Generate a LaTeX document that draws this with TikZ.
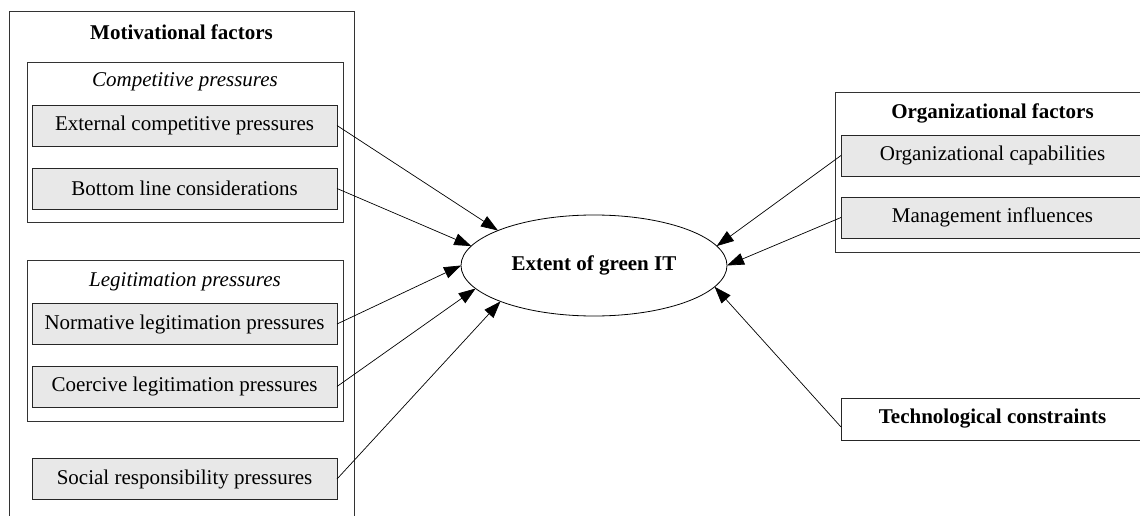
\documentclass[tikz,border=0pt]{standalone}
\usepackage{fontspec}
\setmainfont{Liberation Serif}
\usetikzlibrary{arrows.meta,shapes.geometric}
\definecolor{boxgray}{HTML}{E8E8E8}
\definecolor{framegray}{HTML}{333333}
\tikzset{
  x=1pt, y=-1pt,
  every node/.style={font=\fontsize{21}{25}\selectfont, inner sep=0pt, outer sep=0pt},
  graybox/.style={draw=black!85, line width=0.8pt, fill=boxgray, minimum width=305pt, minimum height=41pt},
  rightbox/.style={draw=black!85, line width=0.8pt, fill=boxgray, minimum width=303pt, minimum height=41pt},
  frame/.style={draw=framegray, line width=0.8pt},
  titletext/.style={font=\fontsize{21}{25}\selectfont\bfseries},
  subtitle/.style={font=\fontsize{21}{25}\selectfont\itshape},
  conn/.style={line width=0.7pt, -{Triangle[length=17pt,width=12pt]}},
}
\begin{document}
\begin{tikzpicture}
\clip (0,0) rectangle (1140,516);
\fill[white] (0,0) rectangle (1140,516);
% containers
\node[frame, minimum width=345pt, minimum height=524pt] (motiv) at (181.5,273) {};
\node[titletext] (motivT) at (181.5,32) {Motivational factors};
\node[frame, minimum width=316pt, minimum height=160pt] (comp) at (185,142) {};
\node[subtitle] (compT) at (185,82) {Competitive pressures};
\node[frame, minimum width=316pt, minimum height=161pt] (legit) at (185,340.5) {};
\node[subtitle] (legitT) at (185,282) {Legitimation pressures};
\node[frame, minimum width=315pt, minimum height=160pt] (org) at (992.5,172) {};
\node[titletext] (orgT) at (992.5,113) {Organizational factors};
% left boxes
\node[graybox] (ext) at (184.5,125.5) {External competitive pressures};
\node[graybox] (bot) at (184.5,188.5) {Bottom line considerations};
\node[graybox] (norm) at (184.5,324) {Normative legitimation pressures};
\node[graybox] (coer) at (184.5,386.5) {Coercive legitimation pressures};
\node[graybox] (soc) at (184.5,479) {Social responsibility pressures};
% right boxes
\node[rightbox] (cap) at (992.5,155.5) {Organizational capabilities};
\node[rightbox] (man) at (992.5,217.5) {Management influences};
\node[draw=black!85, line width=0.8pt, fill=white, minimum width=303pt, minimum height=42pt, font=\fontsize{21}{25}\selectfont\bfseries] (tech) at (992.5,419) {Technological constraints};
% central ellipse
\node[ellipse, draw=black, line width=0.8pt, minimum width=266pt, minimum height=101pt, font=\fontsize{21}{25}\selectfont\bfseries] (green) at (594,265.5) {Extent of green IT};
% connectors
\draw[conn] (ext.east) -- (green.160.5);
\draw[conn] (bot.east) -- (green.171);
\draw[conn] (norm.east) -- (green.180);
\draw[conn] (coer.east) -- (green.191);
\draw[conn] (soc.east) -- (green.201);
\draw[conn] (cap.west) -- (green.9.4);
\draw[conn] (man.west) -- (green.0);
\draw[conn] ([yshift=-8pt]tech.west) -- (green.-10);
\end{tikzpicture}
\end{document}
